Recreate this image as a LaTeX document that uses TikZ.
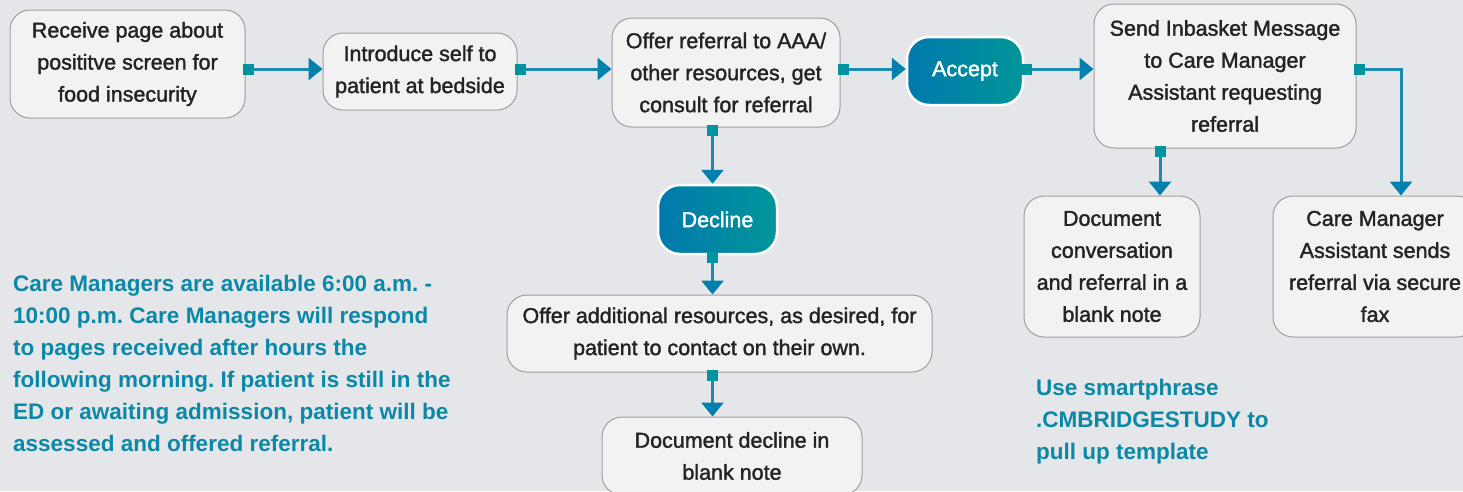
\documentclass[tikz,border=0pt]{standalone}
\usepackage{fontspec}
\setmainfont{Liberation Sans}
\newfontfamily\medfont[FakeBold=1.6]{Liberation Sans}
\frenchspacing
\usetikzlibrary{arrows.meta,shadings}
\definecolor{bg}{HTML}{E5E6EA}
\definecolor{boxfill}{HTML}{F2F2F2}
\definecolor{boxline}{HTML}{9E9E9E}
\definecolor{flow}{HTML}{1A8AB2}
\definecolor{tipc}{HTML}{0080AD}
\definecolor{sqc}{HTML}{00959E}
\definecolor{gradL}{HTML}{0079AD}
\definecolor{gradR}{HTML}{00969A}
\definecolor{notec}{HTML}{0A88A6}
\definecolor{txt}{HTML}{232323}
\begin{document}
\begin{tikzpicture}[x=1pt,y=-1pt,
  stepbox/.style={draw=boxline,fill=boxfill,rounded corners=20pt,line width=1pt,align=center,inner sep=0pt,text=txt,font=\medfont\fontsize{21.5}{32}\selectfont},
  choice/.style={draw=white,line width=2.5pt,rounded corners=22pt,left color=gradL,right color=gradR,text=white,inner sep=0pt,font=\medfont\fontsize{21.5}{32}\selectfont},
  flowline/.style={draw=flow,line width=3pt,shorten <=-3pt,{Square[length=11pt,width=11pt,color=sqc]}-{Triangle[length=14pt,width=22pt,color=tipc]}},
  note/.style={align=left,inner sep=0pt,text=notec,font=\bfseries\fontsize{22.5}{32}\selectfont,anchor=west}]
\fill[bg] (0,0) rectangle (1463,491);
\useasboundingbox (0,0) rectangle (1463,491);
\clip (0,0) rectangle (1463,491);

\node[stepbox,minimum width=235pt,minimum height=108pt] (receive) at (127.5,64) {Receive page about\\posititve screen for\\food insecurity};
\node[stepbox,minimum width=194pt,minimum height=77pt] (intro) at (420,71.5) {Introduce self to\\patient at bedside};
\node[stepbox,minimum width=228pt,minimum height=109pt] (offer) at (726,72.5) {Offer referral to AAA/\\other resources, get\\consult for referral};
\node[choice,minimum width=116pt,minimum height=68pt] (accept) at (965,71) {Accept};
\node[stepbox,minimum width=262pt,minimum height=144pt] (send) at (1225,76) {Send Inbasket Message\\to Care Manager\\Assistant requesting\\referral};
\node[choice,minimum width=119pt,minimum height=69pt] (decline) at (717.5,219.5) {Decline};
\node[stepbox,minimum width=425pt,minimum height=77pt] (addl) at (719.5,333.5) {Offer additional resources, as desired, for\\patient to contact on their own.};
\node[stepbox,minimum width=260pt,minimum height=78pt] (docdecl) at (732,456) {Document decline in\\blank note};
\node[stepbox,minimum width=176pt,minimum height=141pt] (docconv) at (1112,266.5) {Document\\conversation\\and referral in a\\blank note};
\node[stepbox,minimum width=204pt,minimum height=141pt] (cma) at (1375,266.5) {Care Manager\\Assistant sends\\referral via secure\\fax};

\node[note] (hours) at (13,363) {Care Managers are available 6:00 a.m. -\\10:00 p.m. Care Managers will respond\\to pages received after hours the\\following morning. If patient is still in the\\ED or awaiting admission, patient will be\\assessed and offered referral.};
\node[note] (phrase) at (1036,422) {Use smartphrase\\.CMBRIDGESTUDY to\\pull up template};

\coordinate (row) at (0,69);
\coordinate (ax) at (712.5,0);
\coordinate (colA) at (1160,0);
\coordinate (colB) at (1401,0);

\draw[flowline] (receive.east |- row) -- (intro.west |- row);
\draw[flowline] (intro.east |- row) -- (offer.west |- row);
\draw[flowline] (offer.east |- row) -- (accept.west |- row);
\draw[flowline] (accept.east |- row) -- (send.west |- row);
\draw[flowline] (send.east |- row) -| (cma.north -| colB);
\draw[flowline] (send.south -| colA) -- (docconv.north -| colA);
\draw[flowline] (offer.south -| ax) -- (decline.north -| ax);
\draw[flowline] (decline.south -| ax) -- (addl.north -| ax);
\draw[flowline] (addl.south -| ax) -- (docdecl.north -| ax);
\end{tikzpicture}
\end{document}
